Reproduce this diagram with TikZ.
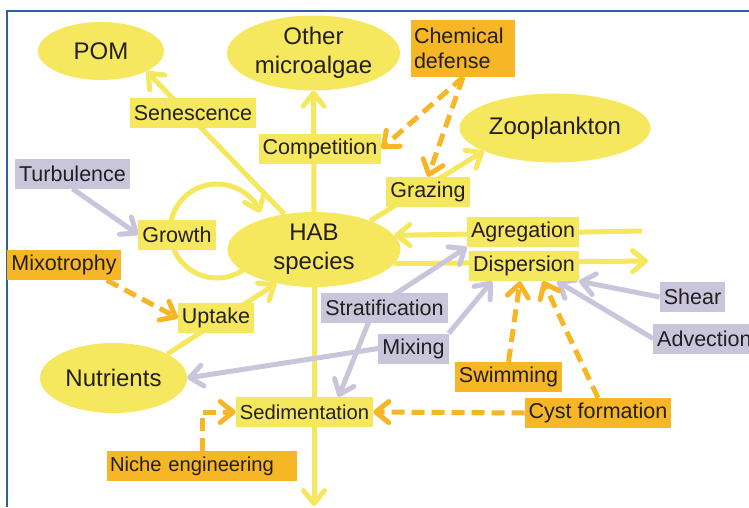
\documentclass[tikz,border=0pt]{standalone}
\usepackage{fontspec}
\setmainfont{Liberation Sans}
\usetikzlibrary{arrows.meta,shapes.geometric}
\definecolor{hy}{HTML}{F6E85E}
\definecolor{hp}{HTML}{C9C6DC}
\definecolor{ho}{HTML}{F7B626}
\definecolor{hb}{HTML}{2C5F9C}
\definecolor{ht}{HTML}{231F20}
\pgfdeclarelayer{bg}
\pgfsetlayers{bg,main}
\begin{document}
\begin{tikzpicture}[x=1pt,y=-1pt,
  every node/.style={text=ht},
  ell/.style={ellipse, fill=hy, inner sep=0pt, align=center, font=\fontsize{24}{29}\selectfont},
  lab/.style={rectangle, inner xsep=4pt, inner ysep=0pt, minimum height=30pt, font=\fontsize{21.5}{25}\selectfont},
  ylab/.style={lab, fill=hy},
  plab/.style={lab, fill=hp},
  olab/.style={lab, fill=ho},
  tipend/.style={-{Straight Barb[length=13pt,width=21pt,round]}},
  yline/.style={draw=hy, line width=5pt, tipend},
  pline/.style={draw=hp, line width=5pt, tipend},
  oline/.style={draw=ho, line width=5pt, dash pattern=on 13pt off 7pt, tipend},
]
\useasboundingbox (0,0) rectangle (749,507);
% ellipses
\node[ell, minimum width=126pt, minimum height=58pt] (pom) at (101,51) {POM};
\node[ell, minimum width=173pt, minimum height=75pt] (oth) at (313.5,53) {Other\\microalgae};
\node[ell, minimum width=191pt, minimum height=69pt] (zoo) at (555,128) {Zooplankton};
\node[ell, minimum width=173pt, minimum height=75pt] (hab) at (314,249.5) {HAB\\species};
\node[ell, minimum width=147pt, minimum height=70pt] (nut) at (113.5,378) {Nutrients};
% yellow labels
\node[ylab] (sen) at (193,113) {Senescence};
\node[ylab] (com) at (320,148.5) {Competition};
\node[ylab] (gro) at (177,234.5) {Growth};
\node[ylab] (gra) at (428,192) {Grazing};
\node[ylab] (agr) at (523,232) {Agregation};
\node[ylab] (dis) at (524,266) {Dispersion};
\node[ylab] (upt) at (216,318) {Uptake};
\node[ylab, font=\fontsize{20.2}{24}\selectfont] (sed) at (304.5,412) {Sedimentation};
% purple labels
\node[plab] (tur) at (72.5,173.5) {Turbulence};
\node[plab] (str) at (384.5,307.5) {Stratification};
\node[plab] (mix) at (413.5,348.5) {Mixing};
\node[plab] (she) at (692.5,297) {Shear};
\node[plab, anchor=west] (adv) at (653,338.5) {Advection};
% orange labels
\node[olab, text width=98pt, align=left, inner xsep=3pt, minimum height=57pt] (che) at (463,48.5) {Chemical\\defense};
\node[olab] (mxt) at (64,265) {Mixotrophy};
\node[olab] (swi) at (508.5,377) {Swimming};
\node[olab] (cys) at (598,413) {Cyst formation};
\node[olab, font=\fontsize{20.2}{24}\selectfont, text width=184pt, align=left, inner xsep=3pt] (nic) at (202,466) {Niche engineering};
\coordinate (gc) at (217,231);
\coordinate (agrE) at (642,231);
\coordinate (disE) at (648,261);
\coordinate (bot) at (314,506);
\begin{pgfonlayer}{bg}
\draw[hb, line width=2.5pt] (7,507) -- (7,11) -- (749,11);
% yellow connectors
\draw[yline] (hab.130) -- (pom.-24);
\draw[yline] (hab.north) -- (oth.south);
\draw[yline] (hab.27) -- (zoo.198);
\draw[yline] (agrE) -- (hab.10);
\draw[yline] (hab.-10) -- (disE);
\draw[yline] (nut.24) -- (hab.222);
\draw[yline] (hab.south) -- (bot);
\draw[yline] ([shift={(50:47)}]gc) arc[start angle=50,end angle=337,radius=47];
% purple connectors
\draw[pline] (tur.south) -- (gro.west);
\draw[pline] ([xshift=-10pt]str.center) -- (agr.south west);
\draw[pline] ([xshift=-10pt]str.center) -- ([xshift=34pt]sed.north);
\draw[pline] (mix.north east) -- ([xshift=-32pt]dis.south);
\draw[pline] (mix.west) -- (nut.east);
\draw[pline] (she.west) -- (dis.south east);
\draw[pline] (adv.west) -- ([xshift=33pt]dis.south);
% orange connectors
\draw[oline] (che.south) -- (com.east);
\draw[oline] (che.south) -- (gra.north);
\draw[oline] ([xshift=-14pt]mxt.south east) -- (upt.west);
\draw[oline] (nic.north) |- (sed.west);
\draw[oline] (swi.north) -- ([xshift=-4pt]dis.south);
\draw[oline] (cys.north) -- ([xshift=19pt]dis.south);
\draw[oline] (cys.west) -- (sed.east);
\end{pgfonlayer}
\end{tikzpicture}
\end{document}
